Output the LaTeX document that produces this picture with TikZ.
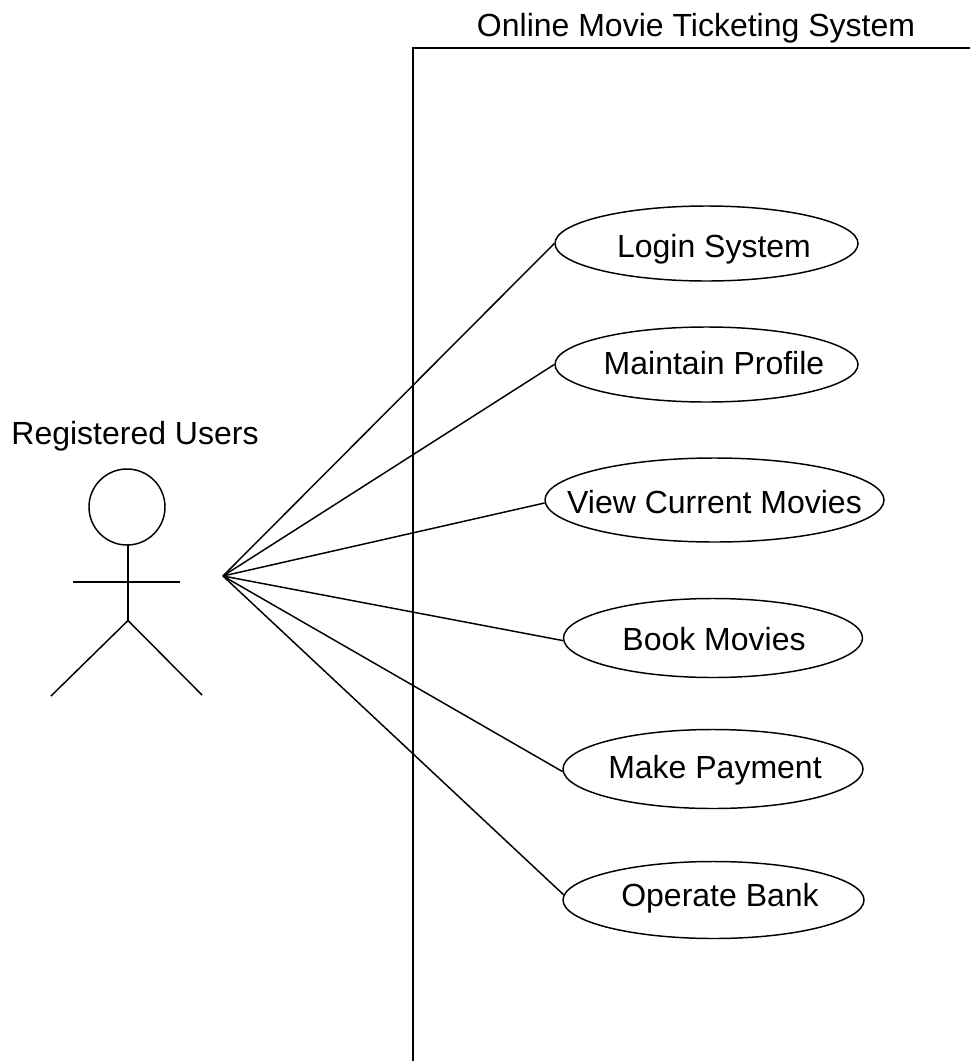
\documentclass[tikz,border=0pt]{standalone}
\usepackage{fontspec}
\setmainfont{Liberation Sans}
\usetikzlibrary{shapes.geometric}
\tikzset{
  uc/.style n args={2}{draw=black,fill=white,ellipse,inner sep=0pt,line width=1.1pt,minimum width=#1*0.75pt,minimum height=#2*0.75pt},
  lbl/.style={font=\fontsize{24}{28}\selectfont,text=black,inner sep=0pt,anchor=base},
  ln/.style={draw=black,line width=1.1pt}
}
\begin{document}
\begin{tikzpicture}[x=0.75pt,y=-0.75pt]
\useasboundingbox (0,0) rectangle (970,1061);
\path[fill=white] (0,0) rectangle (970,1061);
% system boundary
\coordinate (tl) at (413,48);
\coordinate (tr) at (970,48);
\coordinate (bl) at (413,1061);
\draw[ln] (tr) -- (tl) -- (bl);
\node[lbl] (title) at (696,36) {Online Movie Ticketing System};
% actor
\node[lbl] (actorlabel) at (135,444) {Registered Users};
\node[draw=black,line width=1.1pt,circle,inner sep=0pt,minimum size=76*0.75pt] (head) at (127,507) {};
\coordinate (neck) at (128,545);
\coordinate (hip) at (128,620.5);
\coordinate (armL) at (73,582);
\coordinate (armR) at (180,582);
\coordinate (legL) at (51,696);
\coordinate (legR) at (202,695);
\draw[ln] (neck) -- (hip);
\draw[ln] (armL) -- (armR);
\draw[ln] (legL) -- (hip) -- (legR);
% use cases
\coordinate (hub) at (223,576);
\node[uc={303}{75}] (login) at (706.5,243.5) {};
\node[uc={303}{75}] (profile) at (706.5,364.5) {};
\node[uc={339}{84}] (view) at (714.5,500) {};
\node[uc={299}{79}] (book) at (713,638) {};
\node[uc={300}{79}] (pay) at (713,769) {};
\node[uc={301}{77}] (bank) at (713.5,900) {};
\draw[ln] (hub) -- (login.west);
\draw[ln] (hub) -- (profile.west);
\draw[ln] (hub) -- (view.181.7);
\draw[ln] (hub) -- (book.181.4);
\draw[ln] (hub) -- (pay.181);
\draw[ln] (hub) -- (bank.178.5);
\node[lbl] at (714,257) {Login System};
\node[lbl] at (714,374) {Maintain Profile};
\node[lbl] at (714.5,513) {View Current Movies};
\node[lbl] at (714,650) {Book Movies};
\node[lbl] at (715,778.5) {Make Payment};
\node[lbl] at (720,906) {Operate Bank};
\end{tikzpicture}
\end{document}
